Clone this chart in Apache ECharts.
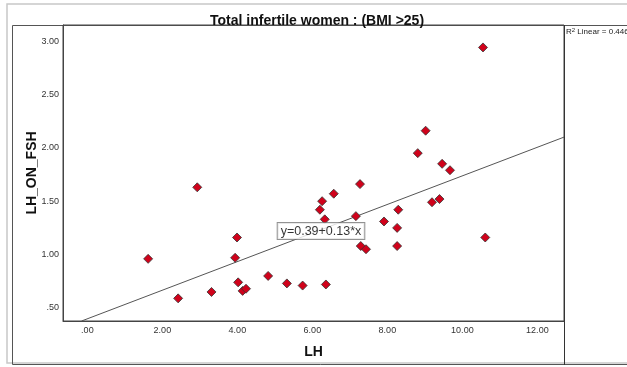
<!DOCTYPE html>
<html>
<head>
<meta charset="utf-8">
<script src="https://cdn.jsdelivr.net/npm/echarts@6/dist/echarts.min.js"></script>
<style>
  html, body { margin: 0; padding: 0; background: #fff; }
  #chart { width: 627px; height: 367px; }
</style>
</head>
<body>
<div id="chart"></div>
<script>
// LH values (x) and LH/FSH ratio (y)
var lhValues = [1.62, 2.42, 2.93, 3.31, 3.99, 3.94, 4.02, 4.14, 4.23, 4.82,
	5.32, 5.74, 6.36, 6.20, 6.26, 6.33, 6.57, 7.27, 7.16, 7.29,
	7.43, 7.91, 8.29, 8.26, 8.26, 8.81, 9.02, 9.19, 9.39, 9.46,
	9.67, 10.55, 10.61];
var ratioValues = [0.96, 0.59, 1.63, 0.65, 1.16, 0.97, 0.74, 0.66, 0.68, 0.80,
	0.73, 0.71, 0.72, 1.42, 1.50, 1.33, 1.57, 1.66, 1.36, 1.08,
	1.05, 1.31, 1.42, 1.25, 1.08, 1.95, 2.16, 1.49, 1.52, 1.85,
	1.79, 2.94, 1.16];

// fit line ends (y=0.39+0.13*x) as drawn across the plot
var fitX = [-0.155, 12.71];
var fitY = [0.378, 2.10];
var fitLabel = 'y=0.39+0.13*x';
var fitLabelAt = [6.23, 1.22];

var xTicks = [0, 2, 4, 6, 8, 10, 12];
var yTicks = [0.5, 1, 1.5, 2, 2.5, 3];

var points = [];
for (var i = 0; i < lhValues.length; i++) {
	points.push([lhValues[i], ratioValues[i]]);
}
var fitData = [[fitX[0], fitY[0]], [fitX[1], fitY[1]]];

// SPSS style labels: .00, .50 without leading zero
function spssFmt(v) {
	var s = v.toFixed(2);
	if (s.indexOf('0.') === 0) s = s.substring(1);
	return s;
}

var myChart = echarts.init(document.getElementById('chart'));
var font = '"Liberation Sans", Arial, sans-serif';

var option = {
	backgroundColor: '#fff',
	animation: false,
	title: {
		text: 'Total infertile women : (BMI >25)',
		left: 205,
		top: 9,
		textStyle: { fontFamily: font, fontSize: 14, fontWeight: 'bold', color: '#111' }
	},
	graphic: [
		{ type: 'rect', shape: { x: 7, y: 4, width: 640, height: 359 }, style: { fill: 'none', stroke: '#c8c8c8', lineWidth: 1.5 }, z: -1 },
		{ type: 'rect', shape: { x: 12.5, y: 25.5, width: 640, height: 339 }, style: { fill: 'none', stroke: '#555', lineWidth: 1 }, z: -1 },
		{ type: 'line', shape: { x1: 564.5, y1: 25, x2: 564.5, y2: 365 }, style: { stroke: '#333', lineWidth: 1 } },
		{
			type: 'text', left: 566, top: 27,
			style: {
				text: '{a|R}{s|2}{a| Linear = 0.446}',
				rich: {
					a: { fontFamily: font, fontSize: 8, fill: '#222' },
					s: { fontFamily: font, fontSize: 6, fill: '#222', verticalAlign: 'top', padding: [0, 0, 3, 0] }
				}
			}
		}
	],
	grid: {
		left: 63, right: 63, top: 25, bottom: 46,
		show: true, borderColor: '#444', borderWidth: 1
	},
	xAxis: {
		type: 'value',
		min: -0.65, max: 12.71,
		name: 'LH',
		nameLocation: 'middle',
		nameGap: 24,
		nameMoveOverlap: false,
		nameTextStyle: { fontFamily: font, fontSize: 14, fontWeight: 'bold', color: '#111' },
		axisLine: { show: true, onZero: false, lineStyle: { color: '#444' } },
		axisTick: { show: false },
		splitLine: { show: false },
		axisLabel: {
			customValues: xTicks,
			formatter: spssFmt,
			fontFamily: font, fontSize: 9, color: '#333', margin: 5
		}
	},
	yAxis: {
		type: 'value',
		min: 0.378, max: 3.15,
		name: 'LH_ON_FSH',
		nameLocation: 'middle',
		nameGap: 24,
		nameMoveOverlap: false,
		nameTextStyle: { fontFamily: font, fontSize: 14, fontWeight: 'bold', color: '#111' },
		axisLine: { show: true, onZero: false, lineStyle: { color: '#444' } },
		axisTick: { show: false },
		splitLine: { show: false },
		axisLabel: {
			customValues: yTicks,
			formatter: spssFmt,
			fontFamily: font, fontSize: 9, color: '#333', margin: 4
		}
	},
	series: [
		{
			type: 'line',
			data: fitData,
			symbol: 'none',
			lineStyle: { color: '#555', width: 1 },
			z: 1
		},
		{
			type: 'scatter',
			data: points,
			symbol: 'diamond',
			symbolSize: 9,
			itemStyle: { color: '#d0021b', opacity: 1, borderColor: '#333', borderWidth: 0.8 },
			z: 3
		},
		{
			type: 'scatter',
			data: [fitLabelAt],
			symbolSize: 0,
			silent: true,
			label: {
				show: true,
				position: 'inside',
				formatter: fitLabel,
				fontFamily: font, fontSize: 12.5, color: '#000',
				backgroundColor: '#fff',
				borderColor: '#777', borderWidth: 1,
				padding: [2, 3, 1, 3]
			},
			z: 4
		}
	]
};

myChart.setOption(option);
</script>
</body>
</html>
